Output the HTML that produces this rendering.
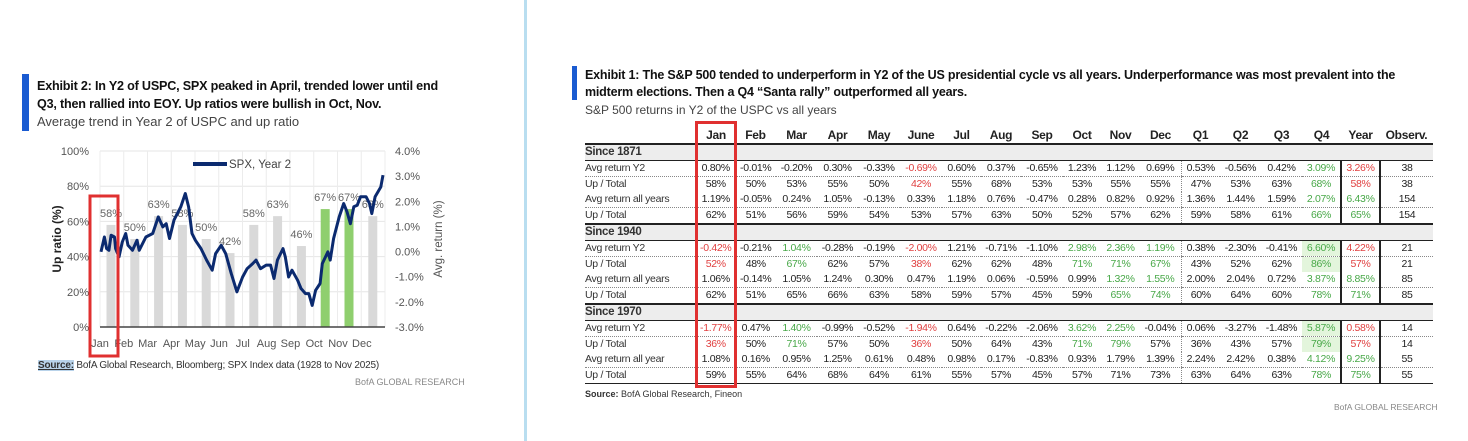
<!DOCTYPE html>
<html><head><meta charset="utf-8">
<style>
body{margin:0;width:1468px;height:441px;background:#fff;position:relative;overflow:hidden;font-family:"Liberation Sans",sans-serif;color:#222}
.abs{position:absolute}
#tbl{position:absolute;left:585px;top:127px;border-collapse:collapse;table-layout:fixed;font-size:10.5px;letter-spacing:-0.3px}
#tbl td,#tbl th{padding:0;height:15px;line-height:15px;text-align:center;white-space:nowrap;overflow:hidden}
#tbl th{font-size:12px;font-weight:bold;border-bottom:2px solid #222;height:16px}
#tbl td.lab{text-align:left;color:#333}
.r{color:#e04040}.g{color:#48a848}.bg{background:#e3f5dc}
tr.sec td{background:#ededed;border-bottom:1px solid #222}
tr.sec td.lab{font-weight:bold;text-align:center;font-size:11.5px}
tr.dot td{border-bottom:1px dotted #888}
tr.end td{border-bottom:2px solid #222}
tr.last td{border-bottom:1px solid #222}
td.vq{border-left:1px dotted #888}
td.vy{border-left:2px solid #222}
td.vo{border-left:2px solid #222}
</style></head><body>
<div class="abs" style="left:524px;top:0;width:3px;height:441px;background:#b9def0"></div>

<!-- Left panel -->
<div class="abs" style="left:22px;top:74px;width:7px;height:57px;background:#1a5bd1"></div>
<div class="abs" style="left:37px;top:77px;font-size:12.6px;font-weight:bold;line-height:18px;color:#111;letter-spacing:-0.2px">Exhibit 2: In Y2 of USPC, SPX peaked in April, trended lower until end<br>Q3, then rallied into EOY. Up ratios were bullish in Oct, Nov.</div>
<div class="abs" style="left:37px;top:114px;font-size:13px;color:#444">Average trend in Year 2 of USPC and up ratio</div>

<svg class="abs" style="left:0;top:0" width="524" height="441" id="chart"></svg>

<div class="abs" style="left:38px;top:360px;font-size:10px;color:#333;letter-spacing:-0.2px"><b style="background:#b9d3ea;text-decoration:underline">Source:</b> BofA Global Research, Bloomberg; SPX Index data (1928 to Nov 2025)</div>
<div class="abs" style="left:355px;top:377px;font-size:9px;color:#888">BofA GLOBAL RESEARCH</div>

<!-- Right panel -->
<div class="abs" style="left:572px;top:66px;width:5px;height:34px;background:#1a5bd1"></div>
<div class="abs" style="left:585px;top:67px;font-size:12.5px;font-weight:bold;line-height:17px;color:#111;letter-spacing:-0.2px">Exhibit 1: The S&amp;P 500 tended to underperform in Y2 of the US presidential cycle vs all years. Underperformance was most prevalent into the<br>midterm elections. Then a Q4 “Santa rally” outperformed all years.</div>
<div class="abs" style="left:585px;top:103px;font-size:12px;color:#444">S&amp;P 500 returns in Y2 of the USPC vs all years</div>

<table id="tbl"></table>
<div class="abs" style="left:695px;top:121px;width:36px;height:261px;border:3px solid #e03030"></div>
<div class="abs" style="left:585px;top:389px;font-size:9px;color:#333"><b>Source:</b> BofA Global Research, Fineon</div>
<div class="abs" style="left:1334px;top:402px;font-size:8.5px;color:#888">BofA GLOBAL RESEARCH</div>

<script>
// ---- Chart data ----
const months=["Jan","Feb","Mar","Apr","May","Jun","Jul","Aug","Sep","Oct","Nov","Dec"];
const upRatio=[58,50,63,58,50,42,58,63,46,67,67,63];
const highlight=[false,false,false,false,false,false,false,false,false,true,true,false];
const leftTicks=[0,20,40,60,80,100];
const rightTicks=[-3,-2,-1,0,1,2,3,4];
const lineDays=[0,3,5,7,9,12,13,16,19,22,24,28,32,34,40,46,51,55,58,61,65,71,75,78,81,84,89,94,99,102,107,111,116,121,126,130,135,138,142,147,151,154,157,162,164,167,170,175,178,182,185,188,191,195,197,202,204,207,212,216,219,222,225,228,231,236,239,241,244,249,251];
const lineVals=[-0.01,0.58,0.12,0.05,0.65,0.58,0.12,-0.21,0.38,0.72,0.25,0.05,0.45,0.05,0.58,0.72,1.38,0.98,1.11,0.52,1.25,1.78,2.31,1.78,0.72,0.45,0.12,-0.34,-0.74,-0.08,0.25,-0.08,-0.88,-1.60,-1.01,-0.68,-0.48,-0.34,-0.68,-0.54,-0.54,-1.07,-0.34,0.12,-0.21,-1.01,-0.74,-1.14,-1.47,-1.67,-1.67,-2.14,-1.54,-1.27,-0.48,-0.01,-0.34,0.52,1.38,1.91,1.58,1.11,1.78,1.84,2.18,2.18,1.91,1.51,2.18,2.57,3.04];

const svg=document.getElementById('chart');
const NS="http://www.w3.org/2000/svg";
const X0=100,X1=385,Y0=327,Y1=151;
const yL=v=>Y0-(v/100)*(Y0-Y1);
const yR=v=>Y0-((v+3)/7)*(Y0-Y1);
const xBar=i=>111+i*23.8;
const xDay=d=>101+d/251*282;
function mk(tag,attrs,parent){const e=document.createElementNS(NS,tag);for(const k in attrs)e.setAttribute(k,attrs[k]);(parent||svg).appendChild(e);return e;}

leftTicks.forEach(t=>{
  const l=mk('line',{x1:X0,x2:X1,y1:yL(t),y2:yL(t),stroke:'#e6e6e6','stroke-width':1});
  
  
  const tx=mk('text',{x:89,y:yL(t)+4,'text-anchor':'end','font-size':11,fill:'#555','font-family':'Liberation Sans'});
  tx.textContent=t+'%';
  
  
});
for(let i=0;i<=12;i++){
  const x=X0+i*(X1-X0)/12;
  const l=mk('line',{x1:x,x2:x,y1:Y1,y2:Y0,stroke:'#ececec','stroke-width':1});
  
  
}
rightTicks.forEach(t=>{
  const tx=mk('text',{x:395,y:yR(t)+4,'font-size':11,fill:'#555','font-family':'Liberation Sans'});
  tx.textContent=(t<0?'-':'')+Math.abs(t).toFixed(1)+'%';
  
  
});
months.forEach((m,i)=>{
  const b=mk('rect',{x:xBar(i)-4.5,y:yL(upRatio[i]),width:9,height:Y0-yL(upRatio[i]),fill:highlight[i]?'#8fcf6e':'#d9d9d9'});
  
  
  const lb=mk('text',{x:xBar(i),y:yL(upRatio[i])-8,'text-anchor':'middle','font-size':11,fill:'#666','font-family':'Liberation Sans'});
  lb.textContent=upRatio[i]+'%';
  
  
  const ml=mk('text',{x:xBar(i)-11,y:347,'text-anchor':'middle','font-size':11,fill:'#555','font-family':'Liberation Sans'});
  ml.textContent=m;
  
  
});
const base=mk('line',{x1:X0,x2:X1,y1:Y0,y2:Y0,stroke:'#444','stroke-width':1.5});


const pts=lineDays.map((d,i)=>xDay(d).toFixed(1)+','+yR(lineVals[i]).toFixed(1)).join(' ');
const pl=mk('polyline',{points:pts,fill:'none',stroke:'#0b2a6f','stroke-width':3,'stroke-linejoin':'round'});


const lgl=mk('line',{x1:193,x2:227,y1:164,y2:164,stroke:'#0b2a6f','stroke-width':4});


const lgt=mk('text',{x:229,y:168,'font-size':11.5,fill:'#444','font-family':'Liberation Sans'});
lgt.textContent='SPX, Year 2';


const yt=mk('text',{transform:'translate(61,239) rotate(-90)','text-anchor':'middle','font-size':12,'font-weight':'bold',fill:'#222','font-family':'Liberation Sans'});
yt.textContent='Up ratio (%)';


const yt2=mk('text',{transform:'translate(442,239) rotate(-90)','text-anchor':'middle','font-size':11.5,fill:'#555','font-family':'Liberation Sans'});
yt2.textContent='Avg. return (%)';


const rb=mk('rect',{x:90,y:196,width:28,height:160,fill:'none',stroke:'#e03030','stroke-width':3});



// ---- Table data ----
const colHeads=["","Jan","Feb","Mar","Apr","May","June","Jul","Aug","Sep","Oct","Nov","Dec","Q1","Q2","Q3","Q4","Year","Observ."];
const colW=[112,38,41,41,41,42,42,39,40,42,38,39,41,39,41,41,39,39,53];
const rows=[
["S","Since 1871"],
["D","Avg return Y2","0.80%","-0.01%","-0.20%","0.30%","-0.33%","r-0.69%","0.60%","0.37%","-0.65%","1.23%","1.12%","0.69%","0.53%","-0.56%","0.42%","g3.09%","r3.26%","38"],
["M","Up / Total","58%","50%","53%","55%","50%","r42%","55%","68%","53%","53%","55%","55%","47%","53%","63%","g68%","r58%","38"],
["D","Avg return all years","1.19%","-0.05%","0.24%","1.05%","-0.13%","0.33%","1.18%","0.76%","-0.47%","0.28%","0.82%","0.92%","1.36%","1.44%","1.59%","g2.07%","g6.43%","154"],
["E","Up / Total","62%","51%","56%","59%","54%","53%","57%","63%","50%","52%","57%","62%","59%","58%","61%","g66%","g65%","154"],
["S","Since 1940"],
["D","Avg return Y2","r-0.42%","-0.21%","g1.04%","-0.28%","-0.19%","r-2.00%","1.21%","-0.71%","-1.10%","g2.98%","g2.36%","g1.19%","0.38%","-2.30%","-0.41%","G6.60%","r4.22%","21"],
["M","Up / Total","r52%","48%","g67%","62%","57%","r38%","62%","62%","48%","g71%","g71%","g67%","43%","52%","62%","G86%","r57%","21"],
["D","Avg return all years","1.06%","-0.14%","1.05%","1.24%","0.30%","0.47%","1.19%","0.06%","-0.59%","0.99%","g1.32%","g1.55%","2.00%","2.04%","0.72%","g3.87%","g8.85%","85"],
["E","Up / Total","62%","51%","65%","66%","63%","58%","59%","57%","45%","59%","g65%","g74%","60%","64%","60%","g78%","g71%","85"],
["S","Since 1970"],
["D","Avg return Y2","r-1.77%","0.47%","g1.40%","-0.99%","-0.52%","r-1.94%","0.64%","-0.22%","-2.06%","g3.62%","g2.25%","-0.04%","0.06%","-3.27%","-1.48%","G5.87%","r0.58%","14"],
["M","Up / Total","r36%","50%","g71%","57%","50%","r36%","50%","64%","43%","g71%","g79%","57%","36%","43%","57%","G79%","r57%","14"],
["D","Avg return all year","1.08%","0.16%","0.95%","1.25%","0.61%","0.48%","0.98%","0.17%","-0.83%","0.93%","1.79%","1.39%","2.24%","2.42%","0.38%","g4.12%","g9.25%","55"],
["L","Up / Total","59%","55%","64%","68%","64%","61%","55%","57%","45%","57%","71%","73%","63%","64%","63%","g78%","g75%","55"]
];

const tbl=document.getElementById('tbl');
const cg=document.createElement('colgroup');
colW.forEach(w=>{const c=document.createElement('col');c.style.width=w+'px';cg.appendChild(c);});
tbl.appendChild(cg);
const hr=document.createElement('tr');


colHeads.forEach(h=>{const th=document.createElement('th');th.textContent=h;
  
  
  hr.appendChild(th);});
tbl.appendChild(hr);
function sideBorders(td,j){if(j===2)td.style.borderLeft='1px solid #888';if(j===13)td.className+=' vq';if(j===17)td.className+=' vy';if(j===18)td.className+=' vo';}
rows.forEach(r=>{
  const tr=document.createElement('tr');
  
  
  if(r[0]==='S'){
    tr.className='sec';
    for(let j=0;j<19;j++){const td=document.createElement('td');
      
      
      if(j===0){td.className='lab';td.textContent=r[1];}
      tr.appendChild(td);}
  } else {
    tr.className=r[0]==='D'?'dot':(r[0]==='E'?'end':(r[0]==='L'?'last':''));
    for(let j=0;j<19;j++){const td=document.createElement('td');
      
      
      let v=r[j+1];
      if(j===0){td.className='lab';td.textContent=v;}
      else{
        const p=v[0];
        if(p==='r'){td.className='r';v=v.slice(1);}
        else if(p==='g'){td.className='g';v=v.slice(1);}
        else if(p==='G'){td.className='g bg';v=v.slice(1);}
        td.textContent=v;
        sideBorders(td,j);
      }
      tr.appendChild(td);}
  }
  tbl.appendChild(tr);
});
</script>
</body></html>
